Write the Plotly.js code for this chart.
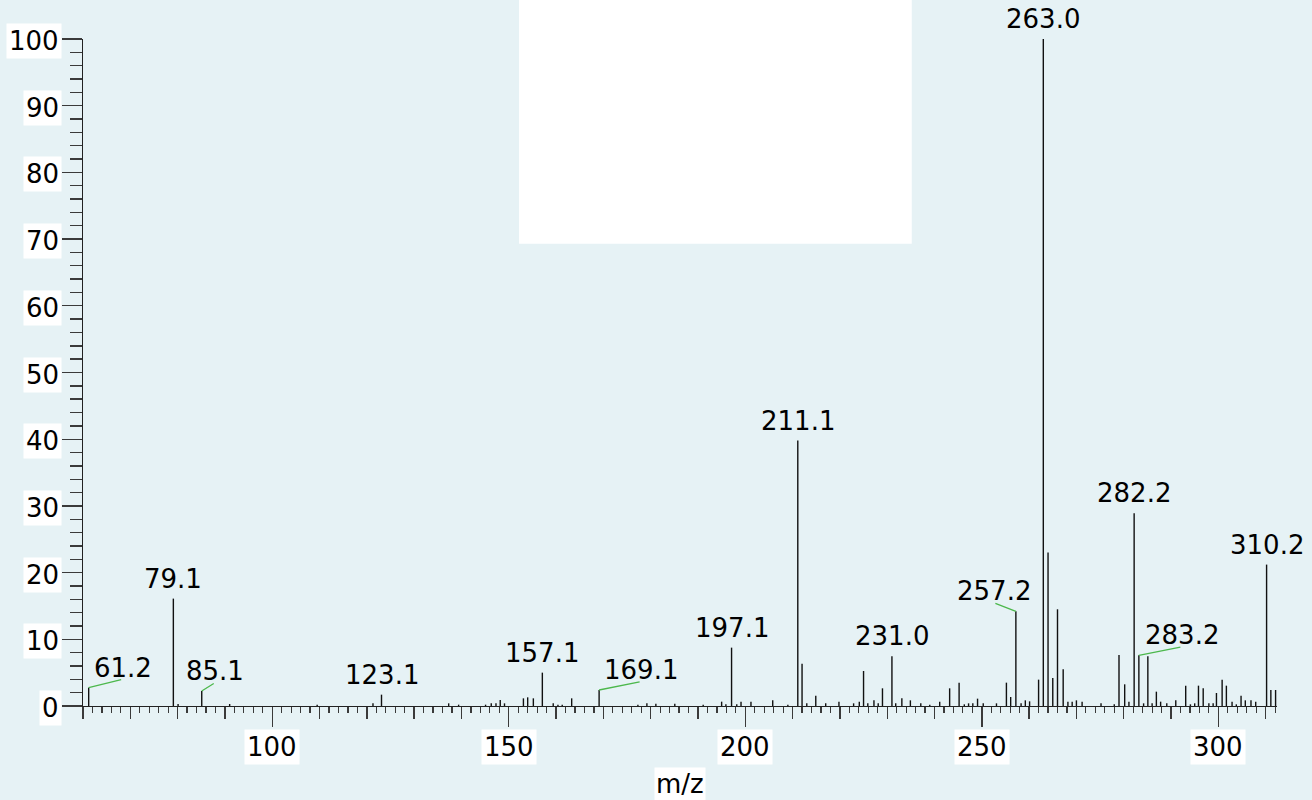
<!DOCTYPE html>
<html>
<head>
<meta charset="utf-8">
<script src="https://cdn.plot.ly/plotly-3.0.1.min.js"></script>
<style>
html,body{margin:0;padding:0;background:#e6f2f5;}
#chart{width:1312px;height:800px;}
</style>
</head>
<body>
<div id="chart"></div>
<script>
// ---- data ----
const peakMz = [61.2,79.1,80.1,85.1,91.0,109.5,121.3,123.1,137.3,139.4,145.1,146.3,147.3,148.2,149.1,153.1,154.0,155.2,157.1,159.4,160.4,161.3,163.3,169.1,177.3,179.2,181.1,185.1,191.1,195.0,195.9,197.1,198.2,199.1,201.2,205.8,209.0,211.1,212.0,213.0,214.9,217.0,219.8,222.9,224.1,225.0,225.9,227.2,228.1,229.0,231.0,231.8,233.1,234.9,237.1,239.0,241.1,243.2,245.2,246.3,247.2,248.1,249.1,250.3,253.1,255.2,256.1,257.2,258.3,259.2,260.1,262.0,263.0,264.0,265.0,266.0,267.2,268.2,269.1,270.0,271.2,275.2,278.0,279.0,280.2,281.1,282.2,283.2,284.2,285.1,286.0,286.9,287.8,289.1,291.0,293.1,294.1,295.0,295.8,296.8,298.0,298.9,299.6,300.8,301.7,302.9,303.8,304.8,305.7,306.9,307.9,310.2,311.1,312.1];
const peakIntensity = [2.75,16.1,0.3,2.25,0.3,0.2,0.4,1.7,0.4,0.2,0.2,0.4,0.4,0.9,0.4,1.15,1.3,1.15,5.0,0.4,0.2,0.2,1.15,2.4,0.2,0.4,0.35,0.35,0.2,0.65,0.25,8.75,0.25,0.65,0.65,0.85,0.2,39.8,6.35,0.4,1.55,0.4,0.65,0.4,0.65,5.25,0.4,0.85,0.4,2.65,7.45,0.4,1.15,0.85,0.4,0.2,0.65,2.65,3.5,0.25,0.4,0.4,1.1,0.4,0.4,3.5,1.35,14.2,0.4,0.85,0.7,3.95,100,23.0,4.2,14.5,5.5,0.65,0.65,0.85,0.65,0.4,0.25,7.65,3.25,0.65,28.9,7.6,0.4,7.45,0.4,2.15,0.65,0.4,0.85,3.05,0.25,0.4,3.05,2.65,0.4,0.4,1.95,3.95,3.05,0.65,0.25,1.55,0.85,0.85,0.65,21.2,2.4,2.4];

const labelMz   = [61.2,79.1,85.1,123.1,157.1,169.1,197.1,211.1,231.0,257.2,263.0,282.2,283.2,310.2];
const labelText = ["61.2","79.1","85.1","123.1","157.1","169.1","197.1","211.1","231.0","257.2","263.0","282.2","283.2","310.2"];
const labelDx   = [34,0,13.5,0,0,42,0,0,0,-22,0,0,43,0];

const xTickVals = [100,150,200,250,300];
const yTickVals = [0,10,20,30,40,50,60,70,80,90,100];
const xTitle = "m/z";

// ---- styling ----
const FONT = {family:"DejaVu Sans, Arial, sans-serif", size:26, color:"#000"};
const AXC = "#222";
const TKC = "#3a3a3a";
const BG = "#e6f2f5";

// ---- traces ----
const sx = [], sy = [];
peakMz.forEach((m,i)=>{ sx.push(m,m,null); sy.push(0,peakIntensity[i],null); });

const traces = [
  {x:sx, y:sy, type:"scatter", mode:"lines", line:{color:"#111", width:1.4},
   hoverinfo:"skip", showlegend:false, cliponaxis:false},
  {x:[peakMz[0]], y:[0], xaxis:"x2", yaxis:"y", type:"scatter", mode:"markers",
   marker:{opacity:0}, hoverinfo:"skip", showlegend:false}
];

// ---- annotations ----
const ann = [];
xTickVals.forEach(v=>ann.push({x:v, xref:"x", y:0, yref:"paper", xanchor:"center", yanchor:"top",
  yshift:-23, text:String(v), showarrow:false, bgcolor:"#ffffff", borderpad:2, font:FONT}));
yTickVals.forEach(v=>ann.push({x:0, xref:"paper", y:v, yref:"y", xanchor:"right", yanchor:"middle",
  xshift:-21, yshift:-2, text:String(v), showarrow:false, bgcolor:"#ffffff", borderpad:2, font:FONT}));
ann.push({x:0.5, xref:"paper", y:0, yref:"paper", xanchor:"center", yanchor:"top", yshift:-61,
  text:xTitle, showarrow:false, bgcolor:"#ffffff", borderpad:1, font:FONT});

labelMz.forEach((m,i)=>{
  const idx = peakMz.indexOf(m);
  const h = peakIntensity[idx];
  ann.push({x:m, y:h, xref:"x", yref:"y", xanchor:"center", yanchor:"bottom",
    xshift:labelDx[i], yshift:3, text:labelText[i], showarrow:false, font:FONT});
  if (labelDx[i] !== 0) {
    ann.push({x:m, y:h, xref:"x", yref:"y", ax:labelDx[i], ay:-8.4, text:"", showarrow:true,
      arrowhead:0, arrowwidth:1.3, arrowcolor:"#4cb84c", standoff:0, font:{size:1}});
  }
});

const layout = {
  width:1312, height:800,
  margin:{l:83, r:35, t:39, b:94, pad:0},
  paper_bgcolor:BG, plot_bgcolor:BG,
  showlegend:false,
  xaxis:{range:[60,312.4], showline:true, linecolor:AXC, linewidth:1.4, mirror:false,
    ticks:"outside", tick0:0, dtick:50, ticklen:20, tickwidth:1.4, tickcolor:TKC,
    showticklabels:false, showgrid:false, zeroline:false,
    minor:{tick0:0, dtick:10, ticklen:12, tickwidth:1.4, tickcolor:TKC, ticks:"outside", showgrid:false}},
  xaxis2:{range:[60,312.4], overlaying:"x", anchor:"y", side:"bottom",
    ticks:"outside", tick0:0, dtick:2, ticklen:6, tickwidth:1.2, tickcolor:TKC,
    showticklabels:false, showgrid:false, zeroline:false, showline:false},
  yaxis:{range:[0,100], showline:true, linecolor:AXC, linewidth:1.4,
    ticks:"outside", tick0:0, dtick:10, ticklen:20, tickwidth:1.4, tickcolor:TKC,
    showticklabels:false, showgrid:false, zeroline:false,
    minor:{tick0:0, dtick:2, ticklen:12, tickwidth:1.4, tickcolor:TKC, ticks:"outside", showgrid:false}},
  shapes:[{type:"rect", xref:"paper", yref:"paper", x0:0.3652, x1:0.6941, y0:0.693, y1:1.06,
    fillcolor:"#ffffff", line:{width:0}, layer:"above"}],
  annotations:ann
};

Plotly.newPlot("chart", traces, layout, {staticPlot:true, displayModeBar:false});
</script>
</body>
</html>
